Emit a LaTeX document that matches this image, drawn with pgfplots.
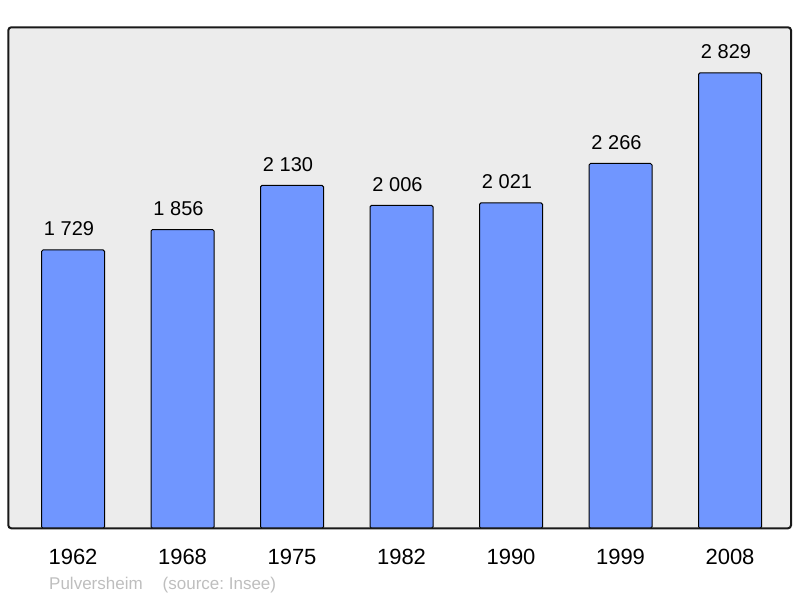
\documentclass[border=0pt]{standalone}
\usepackage{pgfplots}
\pgfplotsset{compat=1.18}
\usepackage{fontspec}
\setmainfont{Liberation Sans}

\definecolor{barblue}{RGB}{112,150,255}
\definecolor{plotbg}{RGB}{236,236,236}
\definecolor{footgray}{RGB}{190,190,190}

\begin{document}
\frenchspacing
\begin{tikzpicture}[x=1pt,y=1pt]
\useasboundingbox (0,0) rectangle (800,598);
\begin{axis}[
  at={(8.3pt,69.7pt)}, anchor=south west,
  scale only axis,
  width=782.7pt, height=501pt,
  ybar, bar width=63pt,
  xmin=-0.591, xmax=6.557,
  ymin=0, ymax=3112,
  xtick=data,
  xticklabels={1962,1968,1975,1982,1990,1999,2008},
  ytick=\empty,
  major tick length=0pt,
  axis line style={draw=none},
  axis background/.style={fill=plotbg, rounded corners=3pt},
  xticklabel style={font=\fontsize{22}{24}\selectfont, anchor=base, yshift=-36pt, inner sep=0pt},
  nodes near coords={\pgfmathprintnumber[1000 sep={\ }, assume math mode=true]{\pgfplotspointmeta}},
  nodes near coords style={font=\fontsize{20}{22}\selectfont, anchor=base, yshift=14pt, xshift=-4pt, inner sep=0pt},
  clip=false,
]
\addplot[fill=barblue, draw=black, line width=1pt, rounded corners=1.5pt]
  coordinates {(0,1729)(1,1856)(2,2130)(3,2006)(4,2021)(5,2266)(6,2829)};
\draw[line width=2pt, rounded corners=3pt, black!90] (rel axis cs:0,0) rectangle (rel axis cs:1,1);
\end{axis}
\node[anchor=base west, inner sep=0pt, text=footgray, font=\fontsize{17}{19}\selectfont] at (49,9) {Pulversheim\hspace{20pt}(source: Insee)};
\end{tikzpicture}
\end{document}
